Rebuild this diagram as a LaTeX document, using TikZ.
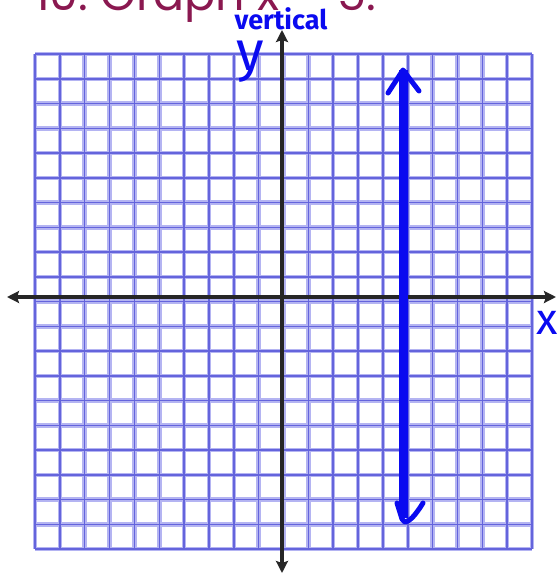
\documentclass[tikz,border=0pt]{standalone}
\usepackage{fontspec}
\usepackage{xcolor}
\usetikzlibrary{arrows.meta}
\setmainfont{Fira Sans}
\newfontfamily\titlefont{Poppins}
\definecolor{gridhalo}{HTML}{B4B4F2}
\definecolor{gridcore}{HTML}{6464DC}
\definecolor{axisgray}{HTML}{262626}
\definecolor{penblue}{HTML}{0A0AF0}
\definecolor{titlered}{HTML}{8A1850}

\begin{document}
\begin{tikzpicture}[
  x=1pt, y=-1pt,
  halo/.style={draw=gridhalo, line width=4.5pt},
  core/.style={draw=gridcore, line width=1.5pt},
  axis/.style={draw=axisgray, line width=4.5pt, {Stealth[length=12pt,width=12pt,inset=2pt]}-{Stealth[length=12pt,width=12pt,inset=2pt]}},
  pen/.style={draw=penblue, line width=5pt, line cap=round, line join=round},
  hand/.style={text=penblue, inner sep=0pt}
]
\useasboundingbox[fill=white] (0,0) rectangle (557,576);

% title, cut off by the top edge
\node[anchor=base west, inner sep=0pt, text=titlered, font=\titlefont\fontsize{46}{54}\selectfont] (title) at (35,10) {10.\ Graph x = 5.};

% grid, 20 x 20 cells
\foreach \i in {0,...,20} {
  \draw[halo] (35+\i*24.85,54) -- (35+\i*24.85,549);
  \draw[halo] (35,54+\i*24.75) -- (532,54+\i*24.75);
}
\foreach \i in {0,...,20} {
  \draw[core] (35+\i*24.85,54) -- (35+\i*24.85,549);
  \draw[core] (35,54+\i*24.75) -- (532,54+\i*24.75);
}

% axes
\coordinate (xl) at (7,297);
\coordinate (xr) at (556,297);
\coordinate (yt) at (282,30);
\coordinate (yb) at (282,573);
\draw[axis] (xl) -- (xr);
\draw[axis] (yb) -- (yt);

% the line x = 5
\coordinate (ltop) at (403,70);
\coordinate (lbot) at (403,518);
\draw[pen, line width=9pt, line cap=butt] (ltop) -- (lbot);
\draw[pen] (388,93) -- (ltop) -- (419,91);
\draw[pen] (397,503) -- (402,519) .. controls (404,524) and (410,524) .. (423,503);

% handwritten labels
\node[hand, font=\bfseries\fontsize{27}{27}\selectfont] (vert) at (281,19) {vertical};
\node[hand, font=\fontsize{56}{56}\selectfont] (ylab) at (250,62) {y};
\node[hand, font=\fontsize{44}{44}\selectfont] (xlab) at (547,323) {x};
\end{tikzpicture}
\end{document}
